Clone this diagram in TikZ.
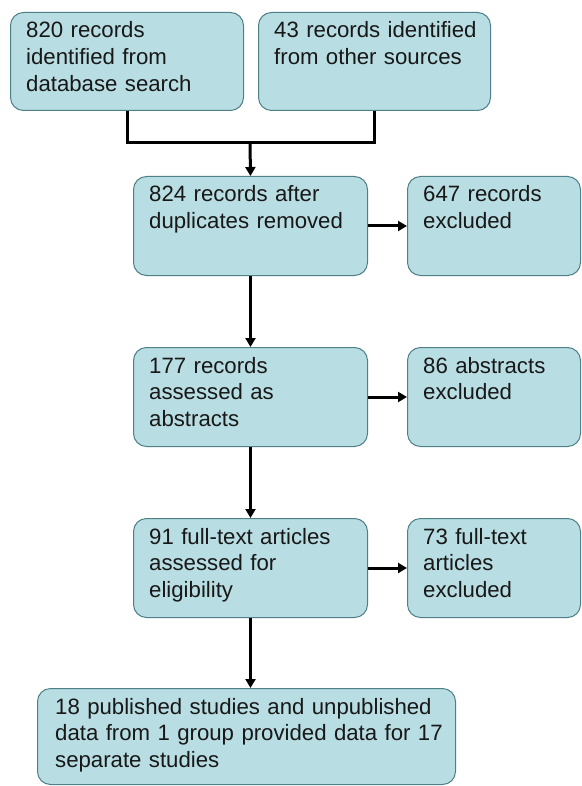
\documentclass[tikz,border=0pt]{standalone}
\usepackage{fontspec}
\setmainfont{Liberation Sans}
\usetikzlibrary{arrows.meta}
\definecolor{boxfill}{RGB}{184,221,226}
\definecolor{boxline}{RGB}{78,128,136}
\definecolor{txt}{RGB}{24,24,24}
\begin{document}
\begin{tikzpicture}[x=1pt,y=-1pt,
  box/.style={draw=boxline, fill=boxfill, line width=1pt, rounded corners=13pt,
    anchor=north west, inner sep=0pt, minimum width=#1},
  box/.default=233pt,
  lbl/.style={anchor=base west, inner sep=0pt, text width=420pt, align=left,
    text=txt, font=\fontsize{22.2}{26.7}\selectfont},
  line/.style={line width=3pt, draw=black, line join=miter},
  arr/.style={line, -{Triangle[length=9pt,width=10pt]}}
]
\useasboundingbox (0,0) rectangle (581,786);
% boxes
\node[box=233pt, minimum height=98pt] (A) at (10,12) {};
\node[box=232pt, minimum height=98pt] (B) at (258,12) {};
\node[box=234pt, minimum height=99pt] (C) at (133,176) {};
\node[box=173pt, minimum height=99pt] (D) at (407,176) {};
\node[box=234pt, minimum height=99pt] (E) at (133,347) {};
\node[box=173pt, minimum height=99pt] (F) at (407,347) {};
\node[box=234pt, minimum height=99pt] (G) at (133,518) {};
\node[box=173pt, minimum height=99pt] (H) at (407,518) {};
\node[box=418pt, minimum height=96pt] (I) at (37,688) {};
% texts
\node[lbl] (tA) at ([shift={(16pt,-26pt)}]A.north west) {820 records\\identified from\\database search};
\node[lbl] (tB) at ([shift={(16pt,-26pt)}]B.north west) {43 records identified\\from other sources};
\node[lbl] (tC) at ([shift={(16pt,-26pt)}]C.north west) {824 records after\\duplicates removed};
\node[lbl] (tD) at ([shift={(16pt,-26pt)}]D.north west) {647 records\\excluded};
\node[lbl] (tE) at ([shift={(16pt,-26pt)}]E.north west) {177 records\\assessed as\\abstracts};
\node[lbl] (tF) at ([shift={(16pt,-26pt)}]F.north west) {86 abstracts\\excluded};
\node[lbl] (tG) at ([shift={(16pt,-26pt)}]G.north west) {91 full-text articles\\assessed for\\eligibility};
\node[lbl] (tH) at ([shift={(16pt,-26pt)}]H.north west) {73 full-text\\articles\\excluded};
\node[lbl] (tI) at ([shift={(18pt,-26pt)}]I.north west) {18 published studies and unpublished\\data from 1 group provided data for 17\\separate studies};
% connectors
\coordinate (j) at (250,143);
\draw[line] (A.south) |- (j) -| (B.south);
\draw[arr] (j) -- (C.north);
\draw[arr] (C.east) -- (D.west);
\draw[arr] (C.south) -- (E.north);
\draw[arr] (E.east) -- (F.west);
\draw[arr] (E.south) -- (G.north);
\draw[arr] (G.east) -- (H.west);
\draw[arr] (G.south) -- (G.south |- I.north);
\end{tikzpicture}
\end{document}
